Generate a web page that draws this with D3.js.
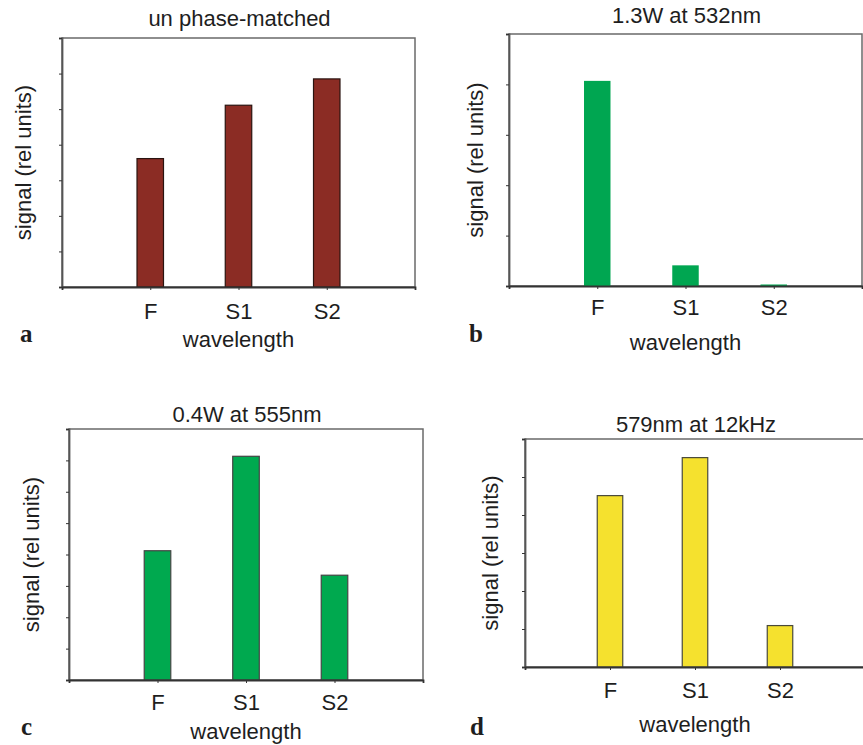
<!DOCTYPE html>
<html>
<head>
<meta charset="utf-8">
<script src="https://cdn.jsdelivr.net/npm/d3@7"></script>
<style>
  body { margin: 0; background: #fff; }
  svg { display: block; }
  text { font-family: "Liberation Sans", Arial, sans-serif; fill: #1e1e1e; }
  .letter { font-family: "Liberation Serif", "Times New Roman", serif; font-weight: bold; }
</style>
</head>
<body>
<svg id="chart" width="863" height="745"></svg>
<script>
// ---- data ----
const categories = ["F", "S1", "S2"];
const titles = ["un phase-matched", "1.3W at 532nm", "0.4W at 555nm", "579nm at 12kHz"];
const letters = ["a", "b", "c", "d"];
const valuesA = [3.61, 5.11, 5.85];
const valuesB = [4.07, 0.41, 0.03];
const valuesC = [4.12, 7.13, 3.34];
const valuesD = [4.51, 5.51, 1.09];
const yMax = [7, 5, 8, 6];   // number of tick intervals on each y axis
const xLabel = "wavelength";
const yLabel = "signal (rel units)";

const svg = d3.select("#chart");
const FS = "22px";

// ---- layout per panel ----
const panels = [
  { values: valuesA, left: 62,  top: 38,  w: 353, h: 249, titleY: 26,  tickPad: 13, xlabY: 347, letterX: 20,  letterY: 342, ylabX: 31,
    fill: "#8b2c24", stroke: "#2a1410" },
  { values: valuesB, left: 509, top: 34,  w: 353, h: 252, titleY: 23,  tickPad: 10, xlabY: 350, letterX: 469, letterY: 342, ylabX: 483,
    fill: "#00a651", stroke: "none" },
  { values: valuesC, left: 69,  top: 429, w: 354, h: 251, titleY: 422, tickPad: 11, xlabY: 739, letterX: 21,  letterY: 735, ylabX: 39,
    fill: "#00a94f", stroke: "#444" },
  { values: valuesD, left: 525, top: 439, w: 340, h: 228, titleY: 432, tickPad: 12, xlabY: 732, letterX: 470, letterY: 735, ylabX: 498,
    fill: "#f5e12e", stroke: "#4a4a3a" }
];

panels.forEach((p, i) => {
  const g = svg.append("g").attr("transform", `translate(${p.left},${p.top})`);

  const x = d3.scalePoint().domain(categories).range([0, p.w]).padding(1);
  const y = d3.scaleLinear().domain([0, yMax[i]]).range([p.h, 0]);
  const bw = x.step() * 0.3;

  // frame
  g.append("rect")
    .attr("width", p.w).attr("height", p.h)
    .attr("fill", "none").attr("stroke", "#6a6a6a").attr("stroke-width", 1.5);

  // bars
  g.selectAll(".bar")
    .data(p.values)
    .join("rect")
    .attr("class", "bar")
    .attr("x", (d, j) => x(categories[j]) - bw / 2)
    .attr("y", d => y(d))
    .attr("width", bw)
    .attr("height", d => y(0) - y(d))
    .attr("fill", p.fill)
    .attr("stroke", p.stroke)
    .attr("stroke-width", 1.2);

  // y axis (ticks only)
  const yAxis = g.append("g")
    .call(d3.axisLeft(y).tickValues(d3.range(0, yMax[i] + 1)).tickSize(3).tickFormat(""));
  yAxis.select(".domain").attr("stroke", "#555").attr("stroke-width", 1.8);
  yAxis.selectAll(".tick line").attr("stroke", "#333");

  // x axis
  const xAxis = g.append("g")
    .attr("transform", `translate(0,${p.h})`)
    .call(d3.axisBottom(x).tickSize(3).tickPadding(p.tickPad));
  xAxis.select(".domain").attr("stroke", "#333").attr("stroke-width", 1.8);
  xAxis.selectAll(".tick line").attr("stroke", "#333");
  xAxis.selectAll("text")
    .style("font-size", FS)
    .style("font-family", "Liberation Sans, Arial, sans-serif")
    .attr("fill", "#1e1e1e");

  // title
  g.append("text")
    .attr("x", p.w / 2 + 1).attr("y", p.titleY - p.top)
    .attr("text-anchor", "middle")
    .style("font-size", FS)
    .text(titles[i]);

  // x label
  g.append("text")
    .attr("x", p.w / 2).attr("y", p.xlabY - p.top)
    .attr("text-anchor", "middle")
    .style("font-size", FS)
    .text(xLabel);

  // y label
  svg.append("text")
    .attr("transform", `translate(${p.ylabX},${p.top + p.h / 2}) rotate(-90)`)
    .attr("text-anchor", "middle")
    .style("font-size", FS)
    .text(yLabel);

  // panel letter
  svg.append("text")
    .attr("class", "letter")
    .attr("x", p.letterX).attr("y", p.letterY)
    .style("font-size", "25px")
    .text(letters[i]);
});
</script>
</body>
</html>
